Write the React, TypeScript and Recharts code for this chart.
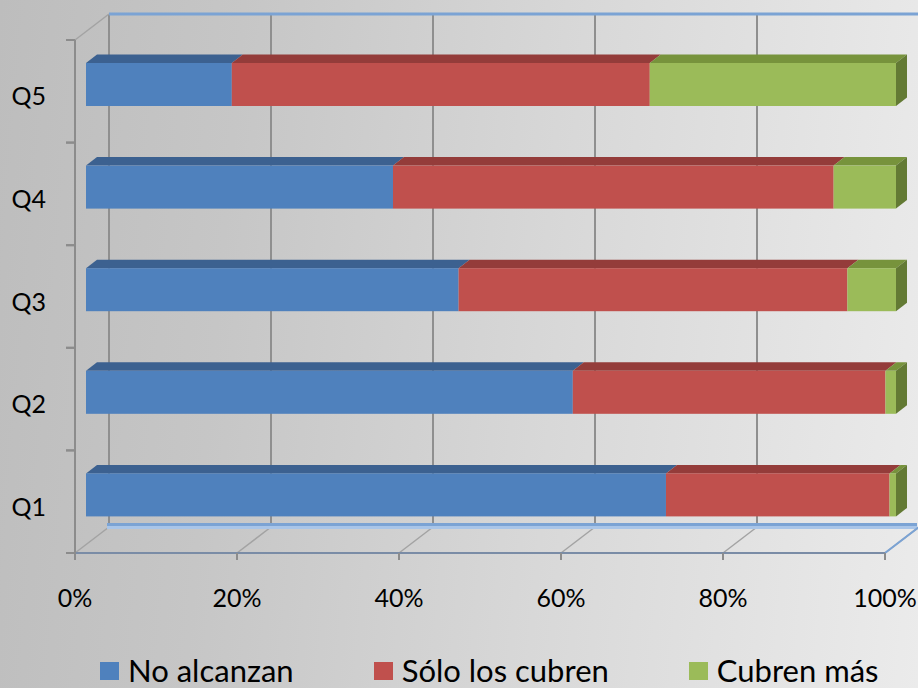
import React from 'react';
import { BarChart, Bar, XAxis, YAxis, CartesianGrid, Legend, ReferenceArea } from 'recharts';

const categories = ['Q1', 'Q2', 'Q3', 'Q4', 'Q5'];
const noAlcanzan = [71.6, 60.1, 46.0, 37.9, 18.0];
const soloLosCubren = [27.6, 38.6, 48.0, 54.4, 51.6];
const cubrenMas = [0.8, 1.3, 6.0, 7.7, 30.4];
const xTicks = [0, 20, 40, 60, 80, 100];

const series = [
  { key: 'noAlcanzan', name: 'No alcanzan', front: '#4f81bd', top: '#3c6190', side: '#2f4f78' },
  { key: 'soloLosCubren', name: 'Sólo los cubren', front: '#c0504d', top: '#943c3a', side: '#7a302e' },
  { key: 'cubrenMas', name: 'Cubren más', front: '#9bbb59', top: '#77933c', side: '#637a34' },
];

const data = categories.map((name, i) => ({
  name,
  noAlcanzan: noAlcanzan[i],
  soloLosCubren: soloLosCubren[i],
  cubrenMas: cubrenMas[i],
}));

const FONT = 'Lato, "Open Sans", sans-serif';

// 3D projection: full depth of the wall, and the bar's front/back offsets
const WDX = 34;
const WDY = -26;
const FDX = 11;
const FDY = -7;
const BDX = 11;
const BDY = -8.5;

function bar3D(s: any, last: boolean) {
  return (props: any) => {
    const { x, y, width, height } = props;
    if (!width || width <= 0) return <g />;
    const fx = x + FDX;
    const fy = y + FDY;
    const top = `${fx},${fy} ${fx + width},${fy} ${fx + width + BDX},${fy + BDY} ${fx + BDX},${fy + BDY}`;
    const side = `${fx + width},${fy} ${fx + width + BDX},${fy + BDY} ${fx + width + BDX},${fy + height + BDY} ${fx + width},${fy + height}`;
    return (
      <g>
        <polygon points={top} fill={s.top} />
        <rect x={fx} y={fy} width={width} height={height} fill={s.front} />
        {last && <polygon points={side} fill={s.side} />}
      </g>
    );
  };
}

const backGridLine = (props: any) => {
  const { x1, y1, y2, key } = props;
  return (
    <g key={key}>
      <line x1={x1} y1={y2} x2={x1 + WDX} y2={y2 + WDY} stroke="#a3a3a3" strokeWidth={1.5} />
      <line x1={x1 + WDX} y1={y1 + WDY} x2={x1 + WDX} y2={y2 + WDY} stroke="#8f8f8f" strokeWidth={2} />
    </g>
  );
};

const wallFrame = (props: any) => {
  const { x, y, width, height } = props;
  return (
    <g>
      <line x1={x} y1={y} x2={x + WDX} y2={y + WDY} stroke="#a3a3a3" strokeWidth={1.5} />
      <rect x={x + WDX} y={y + WDY - 1.5} width={width} height={3} fill="#7ba3d4" />
      <rect x={x + WDX - 2} y={y + height + WDY - 4} width={width} height={3} fill="#7ba3d4" />
      <rect x={x + WDX - 2} y={y + height + WDY - 1} width={width} height={3} fill="#a9c5e8" />
      <line x1={x + width} y1={y + height} x2={x + width + WDX} y2={y + height + WDY} stroke="#7ba3d4" strokeWidth={2} />
    </g>
  );
};

const CategoryTick = (props: any) => {
  const { x, y, payload } = props;
  const half = payload.offset || 0;
  return (
    <g>
      <line x1={x - 9} y1={y - half} x2={x} y2={y - half} stroke="#8c8c8c" strokeWidth={2} />
      <line x1={x - 9} y1={y + half} x2={x} y2={y + half} stroke="#8c8c8c" strokeWidth={2} />
      <text x={x - 29} y={y + 4} textAnchor="end" dominantBaseline="central" fill="#000" fontSize={25} fontFamily={FONT}>
        {payload.value}
      </text>
    </g>
  );
};

const renderLegend = () => (
  <div
    style={{
      display: 'flex',
      width: 918,
      height: 60,
      paddingLeft: 100,
      paddingTop: 25,
      boxSizing: 'border-box',
      fontFamily: FONT,
      fontSize: 31,
      lineHeight: '31px',
      color: '#000',
      whiteSpace: 'nowrap',
    }}
  >
    {series.map((s) => (
      <div key={s.key} style={{ display: 'flex', alignItems: 'center', flexShrink: 0, marginRight: 80 }}>
        <span style={{ display: 'inline-block', width: 19, height: 18, background: s.front, marginRight: 9 }} />
        <span>{s.name}</span>
      </div>
    ))}
  </div>
);

export default function App() {
  return (
    <div
      style={{
        position: 'absolute',
        left: 0,
        top: 0,
        width: 918,
        height: 688,
        overflow: 'hidden',
        background: 'linear-gradient(95deg, #bdbdbd 0%, #c6c6c6 25%, #d8d8d8 60%, #ebebeb 100%)',
      }}
    >
      <BarChart
        width={918}
        height={688}
        data={data}
        layout="vertical"
        margin={{ top: 40, right: 33, left: 0, bottom: 0 }}
        barSize={43}
      >
        <CartesianGrid horizontal={false} vertical={backGridLine} syncWithTicks />
        <ReferenceArea x1={0} x2={100} shape={wallFrame} />
        <XAxis
          type="number"
          domain={[0, 100]}
          ticks={xTicks}
          tickCount={6}
          interval={0}
          tickFormatter={(v: number) => `${v}%`}
          height={75}
          tickSize={7}
          tickMargin={29}
          axisLine={{ stroke: '#7a8ca6', strokeWidth: 2 }}
          tickLine={{ stroke: '#8c8c8c', strokeWidth: 2 }}
          tick={{ fill: '#000', fontSize: 25, fontFamily: FONT }}
        />
        <YAxis
          type="category"
          dataKey="name"
          reversed
          width={75}
          tickSize={0}
          tickMargin={0}
          tickLine={false}
          axisLine={{ stroke: '#8c8c8c', strokeWidth: 2 }}
          tick={<CategoryTick />}
          interval={0}
        />
        {series.map((s, i) => (
          <Bar
            key={s.key}
            dataKey={s.key}
            name={s.name}
            stackId="a"
            fill={s.front}
            isAnimationActive={false}
            shape={bar3D(s, i === series.length - 1)}
          />
        ))}
        <Legend
          verticalAlign="bottom"
          height={60}
          content={renderLegend}
          wrapperStyle={{ left: 0, width: 918, height: 60 }}
        />
      </BarChart>
    </div>
  );
}
